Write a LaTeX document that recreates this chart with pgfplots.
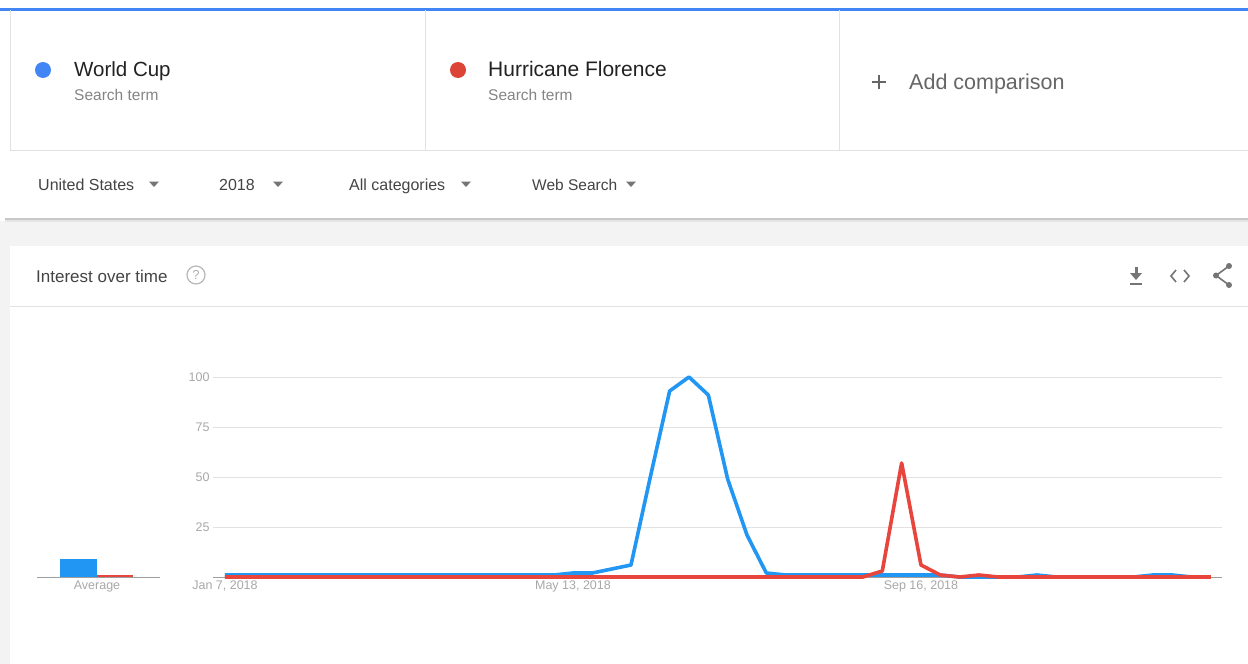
\documentclass[border=0pt]{standalone}
\usepackage{fontspec}
\setmainfont{Liberation Sans}
\usepackage{pgfplots}
\pgfplotsset{compat=1.18}

\definecolor{wcblue}{HTML}{2196F3}
\definecolor{hfred}{HTML}{E8453C}
\definecolor{dotblue}{HTML}{4285F4}
\definecolor{dotred}{HTML}{DB4437}
\definecolor{textdark}{HTML}{222222}
\definecolor{subgray}{HTML}{858585}
\definecolor{addgray}{HTML}{666666}
\definecolor{filtertext}{HTML}{444444}
\definecolor{linegray}{HTML}{E2E2E2}
\definecolor{bggray}{HTML}{F3F3F3}
\definecolor{icongray}{HTML}{757575}
\definecolor{tickgray}{HTML}{A8A8A8}
\definecolor{basegray}{HTML}{9E9E9E}

\newcommand{\fs}[1]{\fontsize{#1}{#1}\selectfont}

\begin{document}
\begin{tikzpicture}[x=1pt,y=1pt]
\useasboundingbox (0,0) rectangle (1248,-664);
% page background
\fill[white] (0,0) rectangle (1248,-664);
\fill[bggray] (0,-221) rectangle (1248,-664);
\fill[white] (10,-246) rectangle (1248,-664);
\draw[linegray] (10,-306) -- (1248,-306);
% top bar and search-term cards
\fill[dotblue] (0,-7.5) rectangle (1248,-10.5);
\draw[linegray] (10,-10) -- (10,-150) -- (1248,-150);
\draw[linegray] (425,-10) -- (425,-150);
\draw[linegray] (839,-10) -- (839,-150);
% filter row shadow
\fill[black!22] (5,-218) rectangle (1248,-220);
\fill[black!10] (5,-220) rectangle (1248,-222);

\fill[dotblue] (43,-70) circle (8);
\node[anchor=base west,inner sep=0,text=textdark] at (74,-76) {\fs{20.5}World Cup};
\node[anchor=base west,inner sep=0,text=subgray] at (74,-100) {\fs{15.5}Search term};
\fill[dotred] (458,-70) circle (8);
\node[anchor=base west,inner sep=0,text=textdark] at (488,-76) {\fs{21}Hurricane Florence};
\node[anchor=base west,inner sep=0,text=subgray] at (488,-100) {\fs{15.5}Search term};
\draw[addgray,line width=1.4] (872,-82) -- (886,-82) (879,-75) -- (879,-89);
\node[anchor=base west,inner sep=0,text=addgray] at (909,-89) {\fs{21.5}Add comparison};

% filters
\node[anchor=base west,inner sep=0,text=filtertext] at (38,-190) {\fs{16}United States};
\fill[icongray] (149,-181.5) -- (159,-181.5) -- (154,-187) -- cycle;
\node[anchor=base west,inner sep=0,text=filtertext] at (219,-190) {\fs{16}2018};
\fill[icongray] (273,-181.5) -- (283,-181.5) -- (278,-187) -- cycle;
\node[anchor=base west,inner sep=0,text=filtertext] at (349,-190) {\fs{16}All categories};
\fill[icongray] (461,-181.5) -- (471,-181.5) -- (466,-187) -- cycle;
\node[anchor=base west,inner sep=0,text=filtertext] at (532,-190) {\fs{15.5}Web Search};
\fill[icongray] (626,-181.5) -- (636,-181.5) -- (631,-187) -- cycle;

% card header
\node[anchor=base west,inner sep=0,text=filtertext] at (36,-282) {\fs{17}Interest over time};
\draw[black!28,line width=1.2] (196,-275) circle (9);
\node[text=black!30,inner sep=0] at (196,-275) {\fs{13}?};
% icons
\fill[icongray] (1134.5,-267) rectangle (1137.5,-273);
\fill[icongray] (1130,-273) -- (1142,-273) -- (1136,-280) -- cycle;
\fill[icongray] (1130,-283) rectangle (1142,-285);
\draw[icongray,line width=1.6] (1176,-270) -- (1171,-276) -- (1176,-282);
\draw[icongray,line width=1.6] (1184,-270) -- (1189,-276) -- (1184,-282);
\draw[icongray,line width=1.6] (1229,-266) -- (1216,-275.5) -- (1229,-285);
\fill[icongray] (1229,-266) circle (3) (1216,-275.5) circle (3) (1229,-285) circle (3);

% average bars
\begin{axis}[
  at={(37pt,-577pt)}, anchor=south west,
  width=123pt, height=200pt, scale only axis,
  xmin=37, xmax=160, ymin=0, ymax=100,
  axis x line*=bottom, axis y line*=left,
  x axis line style={draw=basegray}, y axis line style={draw=none},
  xtick={97}, xticklabels={Average}, ytick=\empty,
  major tick length=0pt,
  xticklabel style={text=tickgray,font=\fs{12.5}},
  clip=false]
  \addplot[ybar, bar width=37pt, bar shift=0pt, fill=wcblue, draw=none] coordinates {(78.5,9)};
  \addplot[ybar, bar width=36pt, bar shift=0pt, fill=hfred, draw=none] coordinates {(115,1)};
\end{axis}

% interest over time, weekly
\begin{axis}[
  at={(213pt,-577pt)}, anchor=south west,
  width=1009pt, height=200pt, scale only axis,
  xmin=-0.62, xmax=51.57, ymin=0, ymax=100,
  axis x line*=bottom, axis y line*=left,
  x axis line style={draw=basegray}, y axis line style={draw=none},
  ytick={25,50,75,100}, ymajorgrids,
  grid style={draw=linegray},
  xtick={0,18,36}, xticklabels={{Jan 7, 2018},{May 13, 2018},{Sep 16, 2018}},
  major tick length=0pt,
  /pgf/number format/assume math mode=true,
  ticklabel style={text=tickgray,font=\fs{12.5}},
  clip=false]
  \addplot[wcblue, line width=3.6pt, line join=round] coordinates {
    (0,1) (1,1) (2,1) (3,1) (4,1) (5,1) (6,1) (7,1) (8,1) (9,1)
    (10,1) (11,1) (12,1) (13,1) (14,1) (15,1) (16,1) (17,1)
    (18,2) (19,2) (20,4) (21,6) (22,50) (23,93) (24,100) (25,91)
    (26,49) (27,21) (28,2) (29,1) (30,1) (31,1) (32,1) (33,1)
    (34,1) (35,1) (36,1) (37,1) (38,0) (39,0) (40,0) (41,0)
    (42,1) (43,0) (44,0) (45,0) (46,0) (47,0) (48,1) (49,1)
    (50,0) (51,0)
  };
  \addplot[hfred, line width=3.6pt, line join=round] coordinates {
    (0,0) (1,0) (2,0) (3,0) (4,0) (5,0) (6,0) (7,0) (8,0) (9,0)
    (10,0) (11,0) (12,0) (13,0) (14,0) (15,0) (16,0) (17,0)
    (18,0) (19,0) (20,0) (21,0) (22,0) (23,0) (24,0) (25,0)
    (26,0) (27,0) (28,0) (29,0) (30,0) (31,0) (32,0) (33,0)
    (34,3) (35,57) (36,6) (37,1) (38,0) (39,1) (40,0) (41,0)
    (42,0) (43,0) (44,0) (45,0) (46,0) (47,0) (48,0) (49,0)
    (50,0) (51,0)
  };
\end{axis}
\end{tikzpicture}
\end{document}
